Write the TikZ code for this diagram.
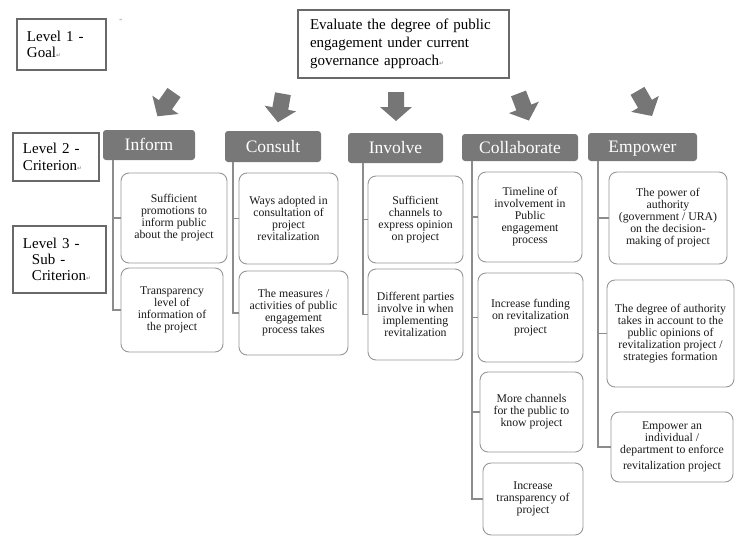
\documentclass[tikz,border=0pt]{standalone}
\usepackage{fontspec}
\setmainfont{Liberation Serif}
\newfontfamily\marksfont{DejaVu Sans}
\usetikzlibrary{calc}

\definecolor{hdrgray}{RGB}{120,120,120}
\definecolor{arrowgray}{RGB}{118,118,118}
\definecolor{linegray}{RGB}{140,140,140}
\definecolor{boxgray}{RGB}{150,150,150}
\definecolor{framegray}{RGB}{105,105,105}

% paragraph mark as shown after some labels
\newcommand\pmark{{\marksfont\fontsize{6}{6}\selectfont\textcolor{gray}{↵}}}

% box given by its corners: style, name, x1, y1, x2, y2, text
\newcommand\cornerbox[7]{%
  \node[#1, minimum width={(#5-#3)*1pt}, minimum height={(#6-#4)*1pt}]
    (#2) at ({(#3+#5)/2},{(#4+#6)/2}) {#7};}

\tikzset{
  levelbox/.style={draw=framegray, line width=1.8pt, inner xsep=0pt, inner ysep=0pt,
    align=left, font=\rmfamily\fontsize{15}{16.7}\selectfont},
  goalbox/.style={draw=framegray, line width=1.8pt, inner xsep=0pt, inner ysep=0pt,
    align=left, text width=187pt, font=\rmfamily\fontsize{15}{18}\selectfont},
  header/.style={fill=hdrgray, text=white, rounded corners=3pt, inner sep=0pt,
    text height=11pt, text depth=0pt, font=\rmfamily\fontsize{17.5}{20}\selectfont},
  subbox/.style={draw=boxgray, line width=0.9pt, rounded corners=8pt, align=center,
    inner sep=2pt, text=black!90, font=\rmfamily\fontsize{11.8}{12}\selectfont},
  conn/.style={draw=linegray, line width=1.1pt},
  bigarrow/.pic={\fill[arrowgray] (-8,-14) -- (8,-14) -- (8,1) -- (16,1) -- (0,15)
    -- (-16,1) -- (-8,1) -- cycle;}
}

\begin{document}
\begin{tikzpicture}[x=1pt,y=-1pt]
\useasboundingbox (0,0) rectangle (736,536);

% level labels
\cornerbox{levelbox, text width=69pt}{lev1}{17}{19}{106}{70}{Level 1 -\\Goal\pmark}
\cornerbox{levelbox, text width=66pt}{lev2}{13}{133}{99}{181}{Level 2 -\\Criterion\pmark}
\cornerbox{levelbox, text width=73pt, font=\rmfamily\fontsize{15}{15.7}\selectfont}{lev3}{13}{226}{106}{293}
  {Level 3 -\\\hspace*{9pt}Sub -\\\hspace*{9pt}Criterion\pmark}
\node[font=\marksfont\fontsize{4}{4}\selectfont, text=gray, inner sep=0pt] (endmark) at (121,20) {↵};

% goal
\cornerbox{goalbox}{goal}{298}{10}{509}{78}
  {Evaluate the degree of public\\engagement under current\\governance approach\pmark}

% block arrows from the goal to the criteria
\pic[rotate=-35] at (166,104) {bigarrow};
\pic[rotate=-10] at (280.5,107.5) {bigarrow};
\pic at (396,106) {bigarrow};
\pic[rotate=21] at (523.5,106.5) {bigarrow};
\pic[rotate=30] at (644.5,103) {bigarrow};

% criteria
\cornerbox{header}{hI}{103}{130}{195}{160}{Inform}
\cornerbox{header}{hC}{225}{131}{321}{162}{Consult}
\cornerbox{header}{hV}{348}{133}{443}{163}{Involve}
\cornerbox{header}{hL}{462}{134}{578}{161}{Collaborate}
\cornerbox{header}{hE}{588}{133}{697}{161}{Empower}

% trunk positions of the connectors
\coordinate (tI) at (113,0);
\coordinate (tC) at (233,0);
\coordinate (tV) at (363,0);
\coordinate (tL) at (472,0);
\coordinate (tE) at (598,0);

% sub-criteria
\cornerbox{subbox}{i1}{121}{173}{227}{263}{Sufficient\\promotions to\\inform public\\about the project}
\cornerbox{subbox}{i2}{121}{268}{223}{352}{Transparency\\level of\\information of\\the project}

\cornerbox{subbox}{c1}{239}{173}{338}{264}{Ways adopted in\\consultation of\\project\\revitalization}
\cornerbox{subbox}{c2}{239}{271}{348}{355}{The measures /\\activities of public\\engagement\\process takes}

\cornerbox{subbox}{v1}{368}{176}{463}{263}{Sufficient\\channels to\\express opinion\\on project}
\cornerbox{subbox}{v2}{368}{269}{463}{360}{Different parties\\involve in when\\implementing\\revitalization}

\cornerbox{subbox}{l1}{478}{172}{582}{262}{Timeline of\\involvement in\\Public\\engagement\\process}
\cornerbox{subbox}{l2}{478}{273}{583}{362}{Increase funding\\on revitalization\\[2pt]project}
\cornerbox{subbox}{l3}{480}{372}{583}{452}{More channels\\for the public to\\know project}
\cornerbox{subbox}{l4}{483}{463}{583}{535}{Increase\\transparency of\\project}

\cornerbox{subbox}{e1}{609}{172}{727}{264}{The power of\\authority\\(government / URA)\\on the decision-\\making of project}
\cornerbox{subbox}{e2}{607}{280}{734}{387}{The degree of authority\\takes in account to the\\public opinions of\\revitalization project /\\strategies formation}
\cornerbox{subbox}{e3}{611}{412}{733}{482}{Empower an\\individual /\\department to enforce\\[4pt]revitalization project}

% connectors
\foreach \h/\t/\s in {hI/tI/i1, hI/tI/i2, hC/tC/c1, hC/tC/c2, hV/tV/v1, hV/tV/v2,
    hL/tL/l1, hL/tL/l2, hL/tL/l3, hL/tL/l4, hE/tE/e1, hE/tE/e2, hE/tE/e3}
  \draw[conn] (\h.south -| \t) |- (\s.west);
\end{tikzpicture}
\end{document}
